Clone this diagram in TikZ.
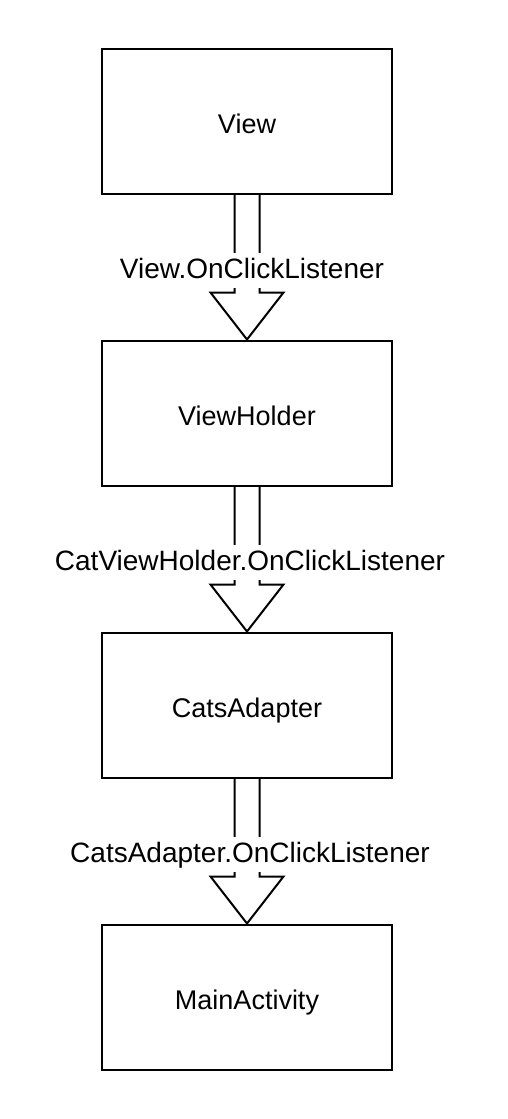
\documentclass[tikz,border=0pt]{standalone}
\usepackage{fontspec}
\setmainfont{Liberation Sans}
\usetikzlibrary{calc}

\begin{document}
\begin{tikzpicture}[
  x=1pt, y=1pt,
  grow=down,
  level distance=292pt,
  edge from parent/.style={draw=none},
  every node/.style = {font=\fontsize{27}{32}\selectfont},
  ClassBox/.style = {draw, line width=2pt, minimum width=290pt, minimum height=145pt,
    inner sep=0pt, text height=29pt, text depth=5pt}
  ]
  \useasboundingbox (0,0) rectangle (508,-1119);
  \node[ClassBox] (view) at (247,-121) {View}
    child
    {
        node[ClassBox] (holder) {ViewHolder}
        child
        {
            node[ClassBox] (adapter) {CatsAdapter}
            child
            {
                node[ClassBox] (main) {MainActivity}
            }
        }
    };

  \tikzset{EdgeDown/.style = {line width=2pt, line join=miter, to path={
    ($(\tikztostart.south)+(-12.5,0)$) -- ($(\tikztotarget.north)+(-12.5,47)$)
    -- ($(\tikztotarget.north)+(-36.5,47)$) -- (\tikztotarget.north)
    -- ($(\tikztotarget.north)+(36.5,47)$) -- ($(\tikztotarget.north)+(12.5,47)$)
    -- ($(\tikztostart.south)+(12.5,0)$)}}}
  \tikzset{LabelStyle/.style = {fill=white, text=black, anchor=base, inner xsep=2pt, inner ysep=3.5pt,
    text height=22.5pt, text depth=5.5pt, font=\fontsize{28}{32}\selectfont}}

  \draw[EdgeDown] (view) to (holder);
  \draw[EdgeDown] (holder) to (adapter);
  \draw[EdgeDown] (adapter) to (main);

  \node[LabelStyle] (viewlab) at ($(view.south)+(5,-84)$) {View.OnClickListener};
  \node[LabelStyle] (holderlab) at ($(holder.south)+(3,-84)$) {CatViewHolder.OnClickListener};
  \node[LabelStyle] (adapterlab) at ($(adapter.south)+(3,-84)$) {CatsAdapter.OnClickListener};

\end{tikzpicture}
\end{document}
